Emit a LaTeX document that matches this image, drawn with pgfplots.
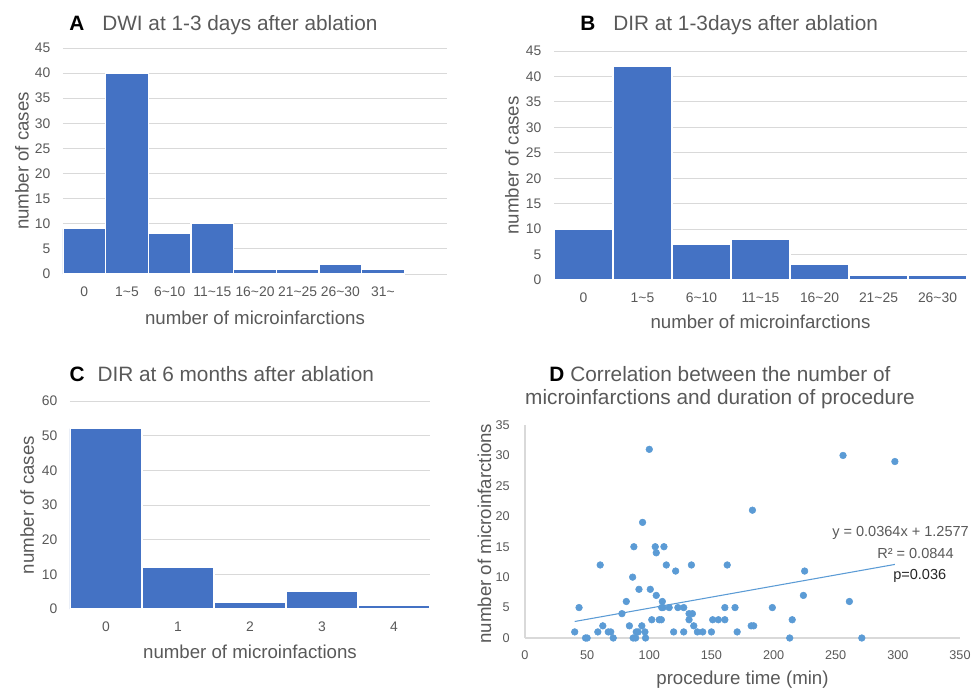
\documentclass[border=0pt]{standalone}
\usepackage{fontspec}
\setmainfont{Liberation Sans}
\usepackage{pgfplots}
\pgfplotsset{compat=1.18}

\definecolor{barblue}{HTML}{4472C4}
\definecolor{dotblue}{HTML}{5B9BD5}
\definecolor{gridgray}{HTML}{D9D9D9}
\definecolor{txtgray}{HTML}{595959}

\newcommand{\ttl}{\fontsize{15.6}{18}\selectfont}
\newcommand{\lbl}{\fontsize{14}{16}\selectfont}
\newcommand{\tck}{\fontsize{10.4}{12}\selectfont}

\pgfplotsset{
  hist/.style={
    scale only axis, anchor=south west,
    ybar, bar width=1, bar shift=0pt,
    ymin=0,
    ymajorgrids, grid style={gridgray, line width=0.7pt},
    axis line style={draw=none},
    major tick length=0pt,
    tick label style={font=\tck, text=txtgray},
    /pgf/number format/assume math mode=true,
    xticklabel style={yshift=-6pt},
    yticklabel style={xshift=-6pt},
    label style={font=\lbl, text=txtgray},
  },
  bars/.style={fill=barblue, draw=white, line width=0.9pt},
}

\begin{document}
\begin{tikzpicture}
\useasboundingbox (0,0) rectangle (729pt,-519pt);

% A
\begin{axis}[hist, at={(47.25pt,-205.5pt)}, width=288pt, height=169.5pt,
  xmin=-0.5, xmax=8.5, ymax=45, ytick={0,5,...,45},
  xtick={0,...,7},
  xticklabels={0,1\textasciitilde5,6\textasciitilde10,11\textasciitilde15,16\textasciitilde20,21\textasciitilde25,26\textasciitilde30,31\textasciitilde},
  xlabel={number of microinfarctions}, ylabel={number of cases},
  xlabel style={at={(axis description cs:0.5,-0.195)}, anchor=center},
  ylabel style={at={(axis description cs:-0.107,0.5)}, anchor=center}]
\addplot[bars] coordinates {(0,9) (1,40) (2,8) (3,10) (4,1) (5,1) (6,2) (7,1)};
\end{axis}

% B
\begin{axis}[hist, at={(415.5pt,-210pt)}, width=309.75pt, height=171.75pt,
  xmin=-0.5, xmax=6.5, ymax=45, ytick={0,5,...,45},
  xtick={0,...,6},
  xticklabels={0,1\textasciitilde5,6\textasciitilde10,11\textasciitilde15,16\textasciitilde20,21\textasciitilde25,26\textasciitilde30},
  xlabel={number of microinfarctions}, ylabel={number of cases},
  xlabel style={at={(axis description cs:0.5,-0.183)}, anchor=center},
  ylabel style={at={(axis description cs:-0.102,0.5)}, anchor=center}]
\addplot[bars] coordinates {(0,10) (1,42) (2,7) (3,8) (4,3) (5,1) (6,1)};
\end{axis}

% C
\begin{axis}[hist, at={(52.5pt,-456.75pt)}, width=270pt, height=156pt,
  xmin=-0.5, xmax=4.5, ymax=60, ytick={0,10,...,60},
  xtick={0,...,4},
  xlabel={number of microinfactions}, ylabel={number of cases},
  xlabel style={at={(axis description cs:0.5,-0.207)}, anchor=center},
  ylabel style={at={(axis description cs:-0.119,0.5)}, anchor=center}]
\addplot[bars] coordinates {(0,52) (1,12) (2,2) (3,5) (4,1)};
\end{axis}

% D
\begin{axis}[scale only axis, anchor=south west,
  at={(393.75pt,-478.5pt)}, width=326.25pt, height=159.75pt,
  xmin=0, xmax=350, ymin=0, ymax=35,
  xtick={0,50,...,350}, ytick={0,5,...,35},
  axis lines=left, axis line style={-, draw=gridgray, line width=0.8pt},
  major tick length=0pt, clip=false,
  tick label style={font=\fontsize{9.5}{11}\selectfont, text=txtgray},
  /pgf/number format/assume math mode=true,
  xticklabel style={yshift=-6pt},
  yticklabel style={xshift=-8pt},
  label style={font=\lbl, text=txtgray},
  xlabel={procedure time (min)}, ylabel={number of microinfarctions},
  xlabel style={at={(axis description cs:0.5,-0.197)}, anchor=center},
  ylabel style={at={(axis description cs:-0.093,0.49)}, anchor=center}]
\addplot[only marks, mark=*, mark size=2.5pt, mark options={draw=dotblue, fill=dotblue}] table {
x y
40 1
43.5 5
48.7 0
50 0
58.6 1
60.5 12
62.6 2
67 1
69 1
71 0
78 4
81.5 6
84 2
86.6 10
87 0
87.6 15
89 0
89.5 1
91 1
91.7 8
94 2
94.6 19
96.5 1
97 0
100 31
100.8 8
102 3
104.8 15
105.6 14
105.6 7
108 3
109.7 3
110 5
110.5 6
111 5
111.8 15
113.7 12
116 5
119.6 1
121.2 11
123 5
127.7 5
127.7 1
132 3
132 4
133.9 12
134.7 4
135.8 2
138.7 1
143 1
150 1
151 3
155.6 3
160.8 3
160.8 5
162.7 12
169 5
170.7 1
182 2
183 21
184 2
199 5
213 0
215 3
224 7
225 11
255.9 30
261 6
271 0
297.6 29
};
\addplot[dotblue, line width=0.8pt] coordinates {(40,2.714) (297.6,12.09)};
\end{axis}

% titles
\node[anchor=base west, inner sep=0pt] at (51.75pt,-22.9pt) {\ttl\textbf{A}};
\node[anchor=base west, inner sep=0pt, text=txtgray] at (76.5pt,-22.9pt) {\ttl DWI at 1-3 days after ablation};
\node[anchor=base west, inner sep=0pt] at (435pt,-23.25pt) {\ttl\textbf{B}};
\node[anchor=base west, inner sep=0pt, text=txtgray] at (459.75pt,-23.25pt) {\ttl DIR at 1-3days after ablation};
\node[anchor=base west, inner sep=0pt] at (52pt,-286.3pt) {\ttl\textbf{C}};
\node[anchor=base west, inner sep=0pt, text=txtgray] at (73pt,-286.3pt) {\ttl DIR at 6 months after ablation};
\node[anchor=base, inner sep=0pt, text=txtgray] at (540pt,-285.75pt) {\ttl{\color{black}\textbf{D}} Correlation between the number of};
\node[anchor=base, inner sep=0pt, text=txtgray] at (540pt,-303pt) {\ttl microinfarctions and duration of procedure};

% trend annotation
\node[anchor=base west, inner sep=0pt, text=txtgray] at (624pt,-402pt) {\fontsize{10.9}{13}\selectfont y = 0.0364x + 1.2577};
\node[anchor=base west, inner sep=0pt, text=txtgray] at (657.75pt,-418.5pt) {\fontsize{10.9}{13}\selectfont R² = 0.0844};
\node[anchor=base west, inner sep=0pt, text=black!85] at (669.75pt,-434.25pt) {\fontsize{10.9}{13}\selectfont p=0.036};
\end{tikzpicture}
\end{document}
